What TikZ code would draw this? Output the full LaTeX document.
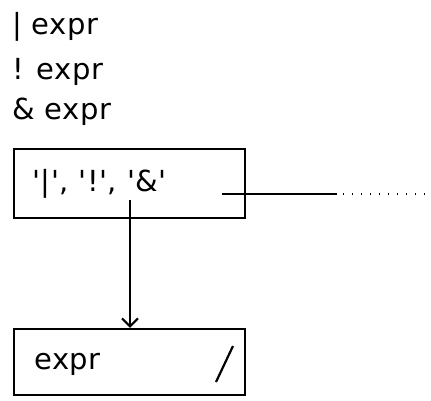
\documentclass[tikz,border=0pt]{standalone}
\usepackage{fontspec}
\newfontfamily\plotfont[LetterSpace=2]{DejaVu Sans}
\usetikzlibrary{arrows.meta}
\tikzset{
  lbl/.style={anchor=base west, inner sep=0pt, font=\plotfont\fontsize{29}{34}\selectfont},
  box/.style={draw, line width=2.4pt, minimum width=231pt, inner sep=0pt},
  wire/.style={line width=2pt},
}
\begin{document}
\begin{tikzpicture}[x=1pt,y=-1pt]
\useasboundingbox (0,0) rectangle (431,401);
% header lines
\node[lbl] (l1) at (12,35) {| expr};
\node[lbl] (l2) at (12,80) {! expr};
\node[lbl] (l3) at (12,120) {\& expr};
% boxes
\node[box, minimum height=69pt] (b1) at (129.5,183.5) {};
\node[box, minimum height=66pt] (b2) at (129.5,362) {};
\node[lbl] (t1) at (32,191) {'|', '!', '\&'};
\node[lbl] (t2) at (34,369) {expr};
% connectors
\coordinate (vs) at (130,200);
\draw[wire, -{Straight Barb[length=8pt,width=16pt,line width=2pt]}] (vs) -- (vs |- b2.north);
\coordinate (hs) at (222,194);
\coordinate (hm) at (337,194);
\coordinate (he) at (431,194);
\draw[wire] (hs) -- (hm);
\draw[line width=1.4pt, dash pattern=on 1.2pt off 7.8pt] (hm) ++(6,0) -- (he);
% slash in lower box
\coordinate (s1) at (216,382);
\coordinate (s2) at (233,346);
\draw[line width=2.2pt] (s1) -- (s2);
\end{tikzpicture}
\end{document}
